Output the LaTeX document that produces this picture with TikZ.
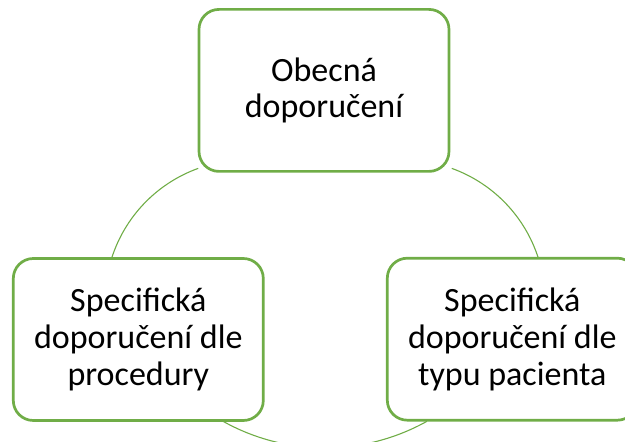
\documentclass[tikz,border=0pt]{standalone}
\usepackage{fontspec}
\setmainfont{Carlito}
\definecolor{boxgreen}{HTML}{70AD47}
\begin{document}
\begin{tikzpicture}[x=1pt,y=1pt,
  stagebox/.style={draw=boxgreen, line width=2.7pt, rounded corners=20pt, fill=white,
    minimum width=250pt, minimum height=162pt, inner sep=0pt, align=center,
    font=\fontsize{34}{36.8}\selectfont, text=black},
  link/.style={draw=boxgreen, line width=1.1pt}]
\useasboundingbox (0,0) rectangle (625,442);
\clip (0,0) rectangle (625,442);
% connecting arcs
\coordinate (la) at (111.6,183.6);
\coordinate (ra) at (538.4,183.6);
\coordinate (ba) at (223.0,20.7);
\draw[link] (la) arc[start angle=162.4, end angle=109.8, radius=141pt];
\draw[link] (ra) arc[start angle=17.6, end angle=70.2, radius=141pt];
\draw[link] (ba) arc[start angle=240.8, end angle=299.2, radius=209pt];
% boxes
\node[stagebox] (top) at (324,351.6) {Obecná\\doporučení};
\node[stagebox] (left) at (138.3,102.5) {Specifická\\doporučení dle\\procedury};
\node[stagebox] (right) at (512.3,102.8) {Specifická\\doporučení dle\\typu pacienta};
\end{tikzpicture}
\end{document}
